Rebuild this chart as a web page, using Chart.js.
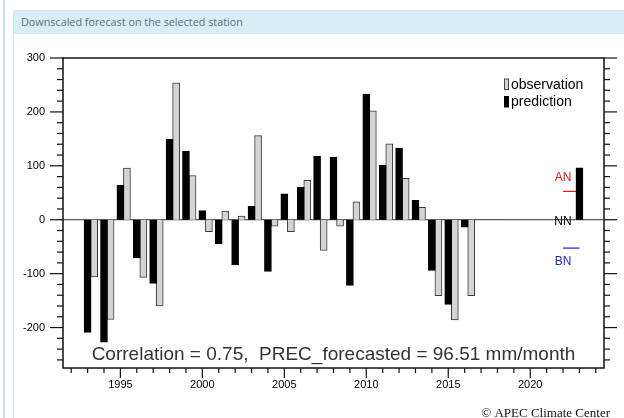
<!DOCTYPE html>
<html>
<head>
<meta charset="utf-8">
<script src="https://cdn.jsdelivr.net/npm/chart.js@4.4.1/dist/chart.umd.min.js"></script>
<style>
  body { margin: 0; width: 624px; height: 418px; overflow: hidden; background: #fff; position: relative; }
  .side-line { position: absolute; left: 3px; top: 0; width: 2px; height: 418px; background: #cadde8; }
  .panel { position: absolute; left: 13px; top: 10px; width: 640px; height: 440px; border: 1px solid #d3e8f0; }
  .panel-heading { height: 22px; line-height: 22px; padding-left: 7px; background: #d9edf7; color: #58727f;
                   font-family: "Open Sans", sans-serif; font-size: 10.8px; border-bottom: 1px solid #d3e8f0; }
  #chart { position: absolute; left: 0; top: 0; }
</style>
</head>
<body>
<div class="side-line"></div>
<div class="panel"><div class="panel-heading">Downscaled forecast on the selected station</div></div>
<canvas id="chart" width="624" height="418"></canvas>

<script>
let years = [1993, 1994, 1995, 1996, 1997, 1998, 1999, 2000, 2001, 2002, 2003, 2004,
             2005, 2006, 2007, 2008, 2009, 2010, 2011, 2012, 2013, 2014, 2015, 2016];
let prediction = [-209, -227, 64, -71, -118, 149, 127, 17, -45, -84, 25, -96,
                  48, 60, 118, 116, -122, 233, 101, 133, 36, -94, -157, -14];
let observation = [-106, -185, 96, -107, -160, 254, 82, -22, 16, 7, 156, -12,
                   -22, 73, -57, -12, 33, 202, 141, 77, 23, -141, -186, -141];
let forecastYear = 2023;
let forecastValue = 96.51;
let thresholds = [52.6, 0, -52.6];        // AN, NN, BN
let thresholdLabels = ['AN', 'NN', 'BN'];
let correlation = 0.75;
let yearLabels = [1995, 2000, 2005, 2010, 2015, 2020];

// observation bar sits just right of the prediction bar of the same year
const OBS_SHIFT = 0.4;


function drawTick(ctx, x1, y1, x2, y2) {
    ctx.beginPath();
    ctx.moveTo(x1, y1);
    ctx.lineTo(x2, y2);
    ctx.stroke();
}


const nclFrame = {
    id: 'nclFrame',
    beforeDatasetsDraw(chart) {
        let ctx = chart.ctx;
        let area = chart.chartArea;
        let y0 = chart.scales.y.getPixelForValue(0);
        ctx.save();
        ctx.strokeStyle = '#333';
        ctx.lineWidth = 1;
        drawTick(ctx, area.left, y0, area.right, y0);
        ctx.restore();
    },
    afterDatasetsDraw(chart) {
        let ctx = chart.ctx;
        let area = chart.chartArea;
        let x = chart.scales.x;
        let y = chart.scales.y;
        ctx.save();

        // frame + tick marks
        ctx.strokeStyle = '#111';
        ctx.lineWidth = 1.5;
        ctx.strokeRect(area.left, area.top, area.right - area.left, area.bottom - area.top);
        ctx.lineWidth = 1.2;
        for (let yr = x.min; yr <= x.max; yr++) {
            let px = x.getPixelForValue(yr);
            let len = yr % 5 === 0 ? 10 : 5;
            drawTick(ctx, px, area.bottom, px, area.bottom + len);
        }
        for (let v = Math.ceil(y.min / 20) * 20; v <= y.max; v += 20) {
            let py = y.getPixelForValue(v);
            let len = v % 100 === 0 ? 13 : 6;
            drawTick(ctx, area.left - len, py, area.left, py);
            drawTick(ctx, area.right, py, area.right + len, py);
        }

        // AN / NN / BN
        ctx.font = '12px "Liberation Sans"';
        ctx.textAlign = 'center';
        ctx.textBaseline = 'middle';
        let colors = ['#e0201c', '#000', '#2424c8'];
        let shift = [-14, 1.5, 14];
        let lx = x.getPixelForValue(forecastYear - 1);
        for (let i = 0; i < thresholds.length; i++) {
            ctx.fillStyle = colors[i];
            ctx.fillText(thresholdLabels[i], lx, y.getPixelForValue(thresholds[i]) + shift[i]);
        }

        // legend
        ctx.font = '14px "Liberation Sans"';
        ctx.textAlign = 'left';
        let items = [
            { label: 'observation', fill: '#d4d4d4', stroke: '#444' },
            { label: 'prediction', fill: '#000', stroke: '#000' }
        ];
        items.forEach((item, i) => {
            let top = area.top + 21 + i * 17.5;
            ctx.fillStyle = item.fill;
            ctx.fillRect(area.right - 99.5, top, 4, 10.5);
            ctx.strokeStyle = item.stroke;
            ctx.lineWidth = 1;
            ctx.strokeRect(area.right - 99.5, top, 4, 10.5);
            ctx.fillStyle = '#000';
            ctx.fillText(item.label, area.right - 93, top + 6);
        });

        // correlation line
        ctx.font = '19px "Liberation Sans"';
        ctx.textAlign = 'center';
        ctx.fillStyle = '#333';
        ctx.fillText('Correlation = ' + correlation.toFixed(2) + ',  PREC_forecasted = ' + forecastValue.toFixed(2) + ' mm/month',
            (area.left + area.right) / 2, area.bottom - 13);

        // credit
        ctx.font = '13px "Liberation Serif"';
        ctx.textAlign = 'right';
        ctx.textBaseline = 'alphabetic';
        ctx.fillStyle = '#111';
        ctx.fillText('\u00a9 APEC Climate Center', 610, 417);
        ctx.restore();
    }
};


let anLine = thresholds[0];
let bnLine = thresholds[2];

new Chart(document.getElementById('chart'), {
    type: 'bar',
    data: {
        datasets: [{
            label: 'prediction',
            data: years.map((yr, i) => ({ x: yr, y: prediction[i] })).concat([{ x: forecastYear, y: forecastValue }]),
            backgroundColor: '#000',
            borderColor: '#000',
            borderWidth: 1,
            barThickness: 7
        }, {
            label: 'observation',
            data: years.map((yr, i) => ({ x: yr + OBS_SHIFT, y: observation[i] })),
            backgroundColor: '#d4d4d4',
            borderColor: '#3a3a3a',
            borderWidth: 1,
            barThickness: 7
        }, {
            type: 'line',
            label: 'AN',
            data: [{ x: forecastYear - 1, y: anLine }, { x: forecastYear, y: anLine }],
            borderColor: '#e0201c',
            borderWidth: 1.3,
            pointRadius: 0
        }, {
            type: 'line',
            label: 'BN',
            data: [{ x: forecastYear - 1, y: bnLine }, { x: forecastYear, y: bnLine }],
            borderColor: '#3030d0',
            borderWidth: 1.3,
            pointRadius: 0
        }]
    },
    options: {
        responsive: false,
        animation: false,
        devicePixelRatio: 1,
        layout: { padding: { top: 58, right: 20, left: 0, bottom: 0 } },
        datasets: { bar: { grouped: false } },
        plugins: {
            legend: { display: false },
            tooltip: { enabled: false }
        },
        scales: {
            x: {
                type: 'linear',
                min: 1992,
                max: 2024,
                grid: { display: false, drawTicks: false },
                border: { display: false },
                afterFit: (s) => { s.height = 50; },
                ticks: {
                    stepSize: 1,
                    autoSkip: false,
                    maxRotation: 0,
                    padding: 10,
                    color: '#000',
                    font: { family: 'Liberation Sans', size: 11 },
                    callback: (v) => yearLabels.includes(v) ? String(v) : ''
                }
            },
            y: {
                min: -275,
                max: 300,
                grid: { display: false, drawTicks: false },
                border: { display: false },
                afterFit: (s) => { s.width = 63; },
                ticks: {
                    stepSize: 100,
                    includeBounds: false,
                    padding: 18,
                    color: '#000',
                    font: { family: 'Liberation Sans', size: 11 }
                }
            }
        }
    },
    plugins: [nclFrame]
});
</script>
</body>
</html>
